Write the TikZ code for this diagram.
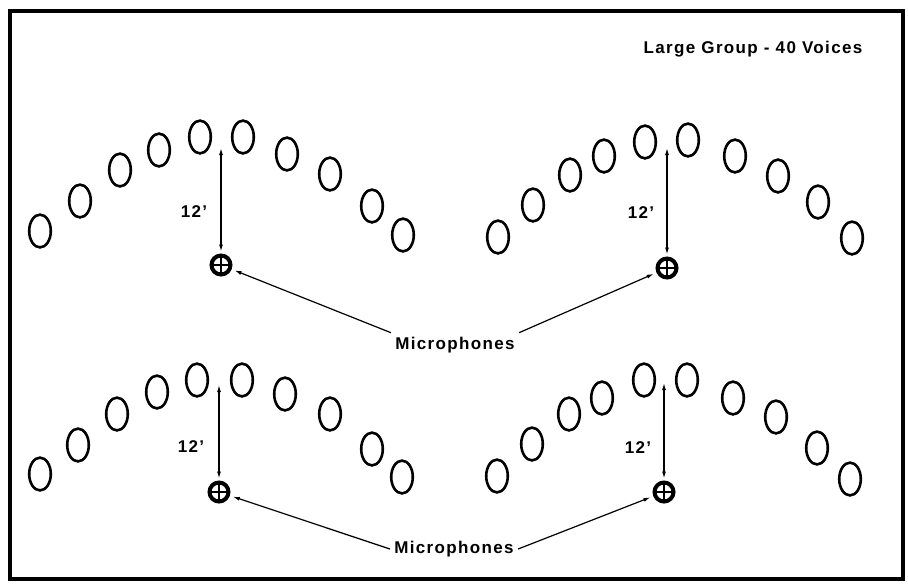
\documentclass[tikz,border=0pt]{standalone}
\usepackage{fontspec}
\setmainfont{Liberation Sans}[LetterSpace = 8]
\usetikzlibrary{shapes.geometric, arrows.meta}

\begin{document}
\begin{tikzpicture}[x = 0.5pt, y = -0.5pt,
        voice/.style = {ellipse, draw, line width = 1.3pt, minimum width = 10.8pt, minimum height = 16.4pt, inner sep = 0pt},
        mike/.style = {circle, draw, line width = 2pt, minimum size = 9.5pt, inner sep = 0pt,
            path picture = {\draw[line width = 1.4pt] (path picture bounding box.north) -- (path picture bounding box.south)
                (path picture bounding box.west) -- (path picture bounding box.east);}},
        dim/.style = {{Latex[length = 3.5pt, width = 2pt]}-{Latex[length = 3.5pt, width = 2pt]}, line width = 0.6pt, shorten > = 1pt},
        lead/.style = {-{Latex[length = 3.5pt, width = 2pt]}, line width = 0.6pt, shorten > = 1.5pt},
        lbl/.style = {font = \fontsize{8.5}{10}\selectfont\bfseries, inner sep = 2pt}]
    \useasboundingbox (0, 0) rectangle (908, 585);
    \draw[line width = 1.6pt] (10, 11) rectangle (903, 579);
    \node[lbl] (title) at (753, 49) {Large Group - 40 Voices};
    % top left group
    \node[voice] (tl1) at (40, 231) {};
    \node[voice] (tl2) at (80, 201) {};
    \node[voice] (tl3) at (120, 170) {};
    \node[voice] (tl4) at (159, 150) {};
    \node[voice] (tl5) at (200, 137) {};
    \node[voice] (tl6) at (243, 137) {};
    \node[voice] (tl7) at (287, 154) {};
    \node[voice] (tl8) at (330, 174) {};
    \node[voice] (tl9) at (372, 206) {};
    \node[voice] (tl10) at (403, 235) {};
    % top right group
    \node[voice] (tr1) at (498, 237) {};
    \node[voice] (tr2) at (533, 205) {};
    \node[voice] (tr3) at (570, 175) {};
    \node[voice] (tr4) at (604, 156) {};
    \node[voice] (tr5) at (645, 142) {};
    \node[voice] (tr6) at (688, 140) {};
    \node[voice] (tr7) at (735, 156) {};
    \node[voice] (tr8) at (778, 176) {};
    \node[voice] (tr9) at (818, 202) {};
    \node[voice] (tr10) at (852, 238) {};
    % bottom left group
    \node[voice] (bl1) at (40, 474) {};
    \node[voice] (bl2) at (78, 445) {};
    \node[voice] (bl3) at (117, 414) {};
    \node[voice] (bl4) at (157, 392) {};
    \node[voice] (bl5) at (197, 380) {};
    \node[voice] (bl6) at (242, 380) {};
    \node[voice] (bl7) at (285, 394) {};
    \node[voice] (bl8) at (330, 414) {};
    \node[voice] (bl9) at (372, 449) {};
    \node[voice] (bl10) at (402, 477) {};
    % bottom right group
    \node[voice] (br1) at (497, 476) {};
    \node[voice] (br2) at (532, 444) {};
    \node[voice] (br3) at (569, 414) {};
    \node[voice] (br4) at (602, 398) {};
    \node[voice] (br5) at (644, 380) {};
    \node[voice] (br6) at (687, 380) {};
    \node[voice] (br7) at (733, 398) {};
    \node[voice] (br8) at (776, 417) {};
    \node[voice] (br9) at (817, 448) {};
    \node[voice] (br10) at (850, 479) {};
    % microphones
    \node[mike] (mtl) at (221, 265) {};
    \node[mike] (mtr) at (667, 268) {};
    \node[mike] (mbl) at (219, 492) {};
    \node[mike] (mbr) at (664, 492) {};
    \coordinate (ttl) at (221, 148);
    \coordinate (ttr) at (667, 148);
    \coordinate (tbl) at (219, 385);
    \coordinate (tbr) at (664, 383);
    \draw[dim] (ttl) -- (mtl);
    \draw[dim] (ttr) -- (mtr);
    \draw[dim] (tbl) -- (mbl);
    \draw[dim] (tbr) -- (mbr);
    \node[lbl] (dtl) at (194, 212) {12'};
    \node[lbl] (dtr) at (641, 213) {12'};
    \node[lbl] (dbl) at (191, 447) {12'};
    \node[lbl] (dbr) at (638, 448) {12'};
    \node[lbl] (mict) at (455, 345) {Microphones};
    \node[lbl] (micb) at (454, 549) {Microphones};
    \draw[lead] (mict.north west) -- (mtl);
    \draw[lead] (mict.north east) -- (mtr);
    \draw[lead] (micb.west) -- (mbl);
    \draw[lead] (micb.east) -- (mbr);
\end{tikzpicture}
\end{document}
